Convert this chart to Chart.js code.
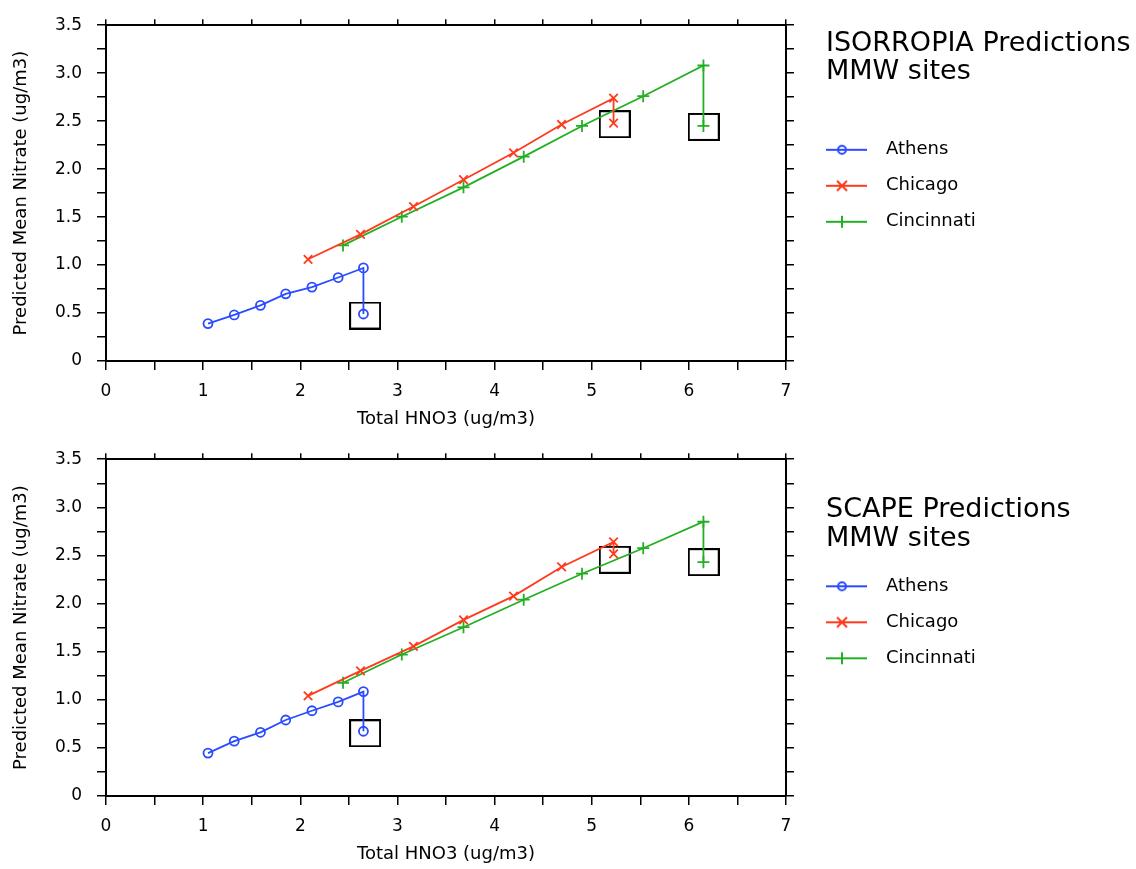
<!DOCTYPE html>
<html>
<head>
<meta charset="utf-8">
<script src="https://cdn.jsdelivr.net/npm/chart.js@4.4.1/dist/chart.umd.min.js"></script>
<style>
  html, body { margin: 0; padding: 0; background: #fff; }
  .panel { position: relative; width: 1136px; }
  #top { height: 434px; }
  #bottom { height: 435px; }
</style>
</head>
<body>
<div class="panel" id="top"><canvas id="isorropia"></canvas></div>
<div class="panel" id="bottom"><canvas id="scape"></canvas></div>
<script>
// sites and their total HNO3 (ug/m3); last point of each series is the lone one under the box
const sites = ['Athens', 'Chicago', 'Cincinnati'];
const athensHNO3 = [1.05, 1.32, 1.59, 1.85, 2.12, 2.39, 2.65, 2.65];
const chicagoHNO3 = [2.08, 2.62, 3.165, 3.68, 4.195, 4.69, 5.225, 5.225];
const cincinnatiHNO3 = [2.44, 3.045, 3.68, 4.30, 4.90, 5.53, 6.15, 6.15];

// predicted mean nitrate (ug/m3), ISORROPIA
const isoAthens = [0.39, 0.48, 0.58, 0.70, 0.77, 0.87, 0.97, 0.49];
const isoChicago = [1.06, 1.32, 1.61, 1.89, 2.17, 2.465, 2.74, 2.48];
const isoCincinnati = [1.205, 1.504, 1.81, 2.13, 2.45, 2.76, 3.08, 2.45];

// predicted mean nitrate (ug/m3), SCAPE
const scapeAthens = [0.446, 0.57, 0.662, 0.79, 0.886, 0.978, 1.085, 0.673];
const scapeChicago = [1.04, 1.30, 1.555, 1.83, 2.077, 2.38, 2.64, 2.516];
const scapeCincinnati = [1.177, 1.47, 1.754, 2.04, 2.31, 2.575, 2.85, 2.43];

// square boxes (one per site)
const boxHNO3 = [2.667, 5.237, 6.153];
const isoBoxNitrate = [0.474, 2.468, 2.44];
const scapeBoxNitrate = [0.652, 2.455, 2.43];

const colors = ['#2a4bff', '#ff3a1e', '#22b022'];
const markers = ['circle', 'crossRot', 'cross'];

Chart.defaults.font.family = "'DejaVu Sans', sans-serif";
Chart.defaults.color = '#000';

const zip = (xs, ys) => xs.map((x, i) => ({ x: x, y: ys[i] }));

// legend sample: short line with the marker in the middle
function legendIcon(color, style) {
  const c = document.createElement('canvas');
  c.width = 87;
  c.height = 16;
  const g = c.getContext('2d');
  g.strokeStyle = color;
  g.lineWidth = 2;
  g.beginPath();
  g.moveTo(0, 8);
  g.lineTo(50, 8);
  g.stroke();
  g.beginPath();
  if (style === 'circle') {
    g.arc(25, 8, 4, 0, Math.PI * 2);
  } else if (style === 'crossRot') {
    g.moveTo(20, 3); g.lineTo(30, 13);
    g.moveTo(30, 3); g.lineTo(20, 13);
  } else {
    g.moveTo(25, 2); g.lineTo(25, 14);
  }
  g.stroke();
  return c;
}

function boxIcon() {
  const c = document.createElement('canvas');
  c.width = 32;
  c.height = 28;
  const g = c.getContext('2d');
  g.strokeStyle = '#000';
  g.lineWidth = 2;
  g.strokeRect(1, 1, 30, 26);
  return c;
}

const icons = colors.map((c, i) => legendIcon(c, markers[i]));
const box = boxIcon();

// legend clips to its own box, so make it wide enough for the title
const wideLegend = {
  id: 'wideLegend',
  beforeLayout(chart) {
    const lg = chart.legend;
    if (lg && !lg._wide) {
      const fit = lg.fit.bind(lg);
      lg.fit = function () { fit(); this.width = 310; };
      lg._wide = true;
    }
  }
};

const grid = (len) => ({ drawOnChartArea: false, drawTicks: true, tickLength: len, color: '#000', lineWidth: 1.5 });
const border = { display: true, color: '#000', width: 2 };

function makeChart(id, title, series, boxY, topAxisH, titlePad) {
  const datasets = series.map((s, i) => ({
    label: sites[i],
    data: zip(s.x, s.y),
    showLine: true,
    borderColor: colors[i],
    backgroundColor: 'rgba(0,0,0,0)',
    borderWidth: 1.8,
    pointStyle: markers[i],
    pointRadius: i === 0 ? 4.5 : 6,
    pointHoverRadius: i === 0 ? 4.5 : 6,
    pointBorderWidth: 1.8,
    pointBorderColor: colors[i],
    pointBackgroundColor: 'rgba(0,0,0,0)'
  }));
  datasets.push({
    label: 'box',
    data: zip(boxHNO3, boxY),
    showLine: false,
    pointStyle: box,
    pointRadius: 12
  });

  return new Chart(document.getElementById(id), {
    type: 'scatter',
    data: { datasets: datasets },
    plugins: [wideLegend],
    options: {
      animation: false,
      responsive: true,
      maintainAspectRatio: false,
      devicePixelRatio: 1,
      layout: { padding: { left: 6, right: 0, top: 8, bottom: 1 } },
      plugins: {
        tooltip: { enabled: false },
        legend: {
          position: 'right',
          align: 'start',
          title: {
            display: true,
            text: title,
            position: 'start',
            color: '#000',
            font: { size: 27, lineHeight: 1.067 },
            padding: titlePad
          },
          labels: {
            usePointStyle: true,
            pointStyleWidth: 33,
            padding: 18,
            color: '#000',
            font: { size: 18 },
            filter: (item) => item.datasetIndex < 3,
            generateLabels: (chart) => {
              const items = Chart.defaults.plugins.legend.labels.generateLabels(chart);
              items.forEach((it) => {
                if (icons[it.datasetIndex]) it.pointStyle = icons[it.datasetIndex];
              });
              return items;
            }
          }
        }
      },
      scales: {
        x: {
          type: 'linear',
          position: 'bottom',
          min: 0,
          max: 7,
          afterFit: (s) => { s.height = 72; },
          ticks: {
            stepSize: 0.5,
            autoSkip: false,
            maxRotation: 0,
            padding: 11,
            font: { size: 17 },
            callback: (v) => (Number.isInteger(v) ? String(v) : '')
          },
          grid: grid(9),
          border: border,
          title: {
            display: true,
            text: 'Total HNO3 (ug/m3)',
            font: { size: 18 },
            padding: { top: 0, bottom: 3 }
          }
        },
        x2: {
          type: 'linear',
          position: 'top',
          min: 0,
          max: 7,
          afterFit: (s) => { s.height = topAxisH; },
          ticks: { display: false, stepSize: 0.5 },
          grid: grid(6),
          border: border
        },
        y: {
          type: 'linear',
          position: 'left',
          min: 0,
          max: 3.5,
          afterFit: (s) => { s.width = 100; },
          ticks: {
            stepSize: 0.25,
            autoSkip: false,
            padding: 15,
            font: { size: 17 },
            callback: (v) => {
              if (Math.abs(v * 2 - Math.round(v * 2)) > 1e-9) return '';
              return v === 0 ? '0' : v.toFixed(1);
            }
          },
          grid: grid(9),
          border: border,
          title: {
            display: true,
            text: 'Predicted Mean Nitrate (ug/m3)',
            font: { size: 18 },
            padding: { top: 5, bottom: 0 }
          }
        },
        y2: {
          type: 'linear',
          position: 'right',
          min: 0,
          max: 3.5,
          afterFit: (s) => { s.width = 40; },
          ticks: { display: false, stepSize: 0.25 },
          grid: grid(8),
          border: border
        }
      }
    }
  });
}

makeChart('isorropia', ['ISORROPIA Predictions', 'MMW sites'], [
  { x: athensHNO3, y: isoAthens },
  { x: chicagoHNO3, y: isoChicago },
  { x: cincinnatiHNO3, y: isoCincinnati }
], isoBoxNitrate, 12, { top: 22, bottom: 64 });

makeChart('scape', ['SCAPE Predictions', 'MMW sites'], [
  { x: athensHNO3, y: scapeAthens },
  { x: chicagoHNO3, y: scapeChicago },
  { x: cincinnatiHNO3, y: scapeCincinnati }
], scapeBoxNitrate, 13, { top: 54.5, bottom: 34 });
</script>
</body>
</html>
